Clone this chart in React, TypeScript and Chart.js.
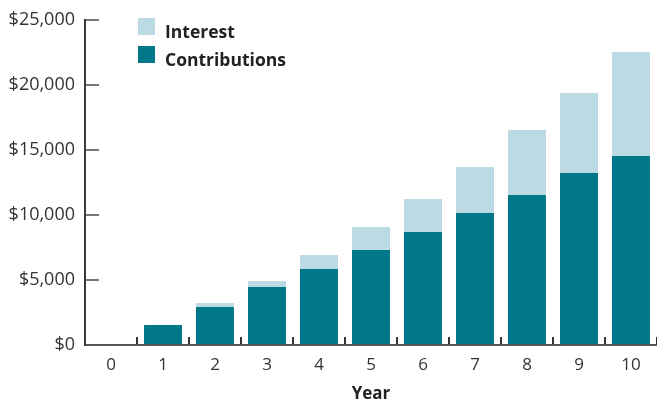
import React, { useEffect, useRef } from 'react';
import { Chart, registerables } from 'chart.js';

Chart.register(...registerables);

const years = ['0', '1', '2', '3', '4', '5', '6', '7', '8', '9', '10'];
const contributions = [0, 1540, 2920, 4460, 5850, 7310, 8690, 10150, 11540, 13230, 14540];
const interest = [0, 0, 310, 460, 1070, 1770, 2540, 3540, 5000, 6150, 8000];
const yMin = 0;
const yMax = 25000;
const yStep = 5000;

const DARK = '#00788a';
const LIGHT = '#bcdae3';
const FONT = 'Open Sans';

const insideLegend = {
  id: 'insideLegend',
  afterDraw(chart: any) {
    const { ctx, chartArea } = chart;
    const items = [...chart.data.datasets].reverse();
    ctx.save();
    ctx.font = `bold 17.5px "${FONT}"`;
    ctx.textBaseline = 'alphabetic';
    ctx.textAlign = 'left';
    items.forEach((ds: any, i: number) => {
      const x = chartArea.left + 53;
      const y = chartArea.top - 2 + i * 28;
      ctx.fillStyle = ds.backgroundColor;
      ctx.fillRect(x, y, 17, 17);
      ctx.fillStyle = '#222';
      ctx.fillText(ds.label, x + 27, y + 19.5);
    });
    ctx.restore();
  },
};

export default function App() {
  const ref = useRef<HTMLCanvasElement>(null);

  useEffect(() => {
    if (!ref.current) return;
    const chart = new Chart(ref.current, {
      type: 'bar',
      data: {
        labels: years,
        datasets: [
          {
            label: 'Contributions',
            data: contributions,
            backgroundColor: DARK,
            borderWidth: 0,
            barPercentage: 0.73,
            categoryPercentage: 1,
          },
          {
            label: 'Interest',
            data: interest,
            backgroundColor: LIGHT,
            borderWidth: 0,
            barPercentage: 0.73,
            categoryPercentage: 1,
          },
        ],
      },
      options: {
        responsive: false,
        animation: false,
        layout: { padding: { top: 20, right: 0, bottom: 0, left: 0 } },
        plugins: {
          legend: { display: false },
          tooltip: { enabled: false },
        },
        scales: {
          x: {
            stacked: true,
            offset: true,
            grid: {
              offset: true,
              drawOnChartArea: false,
              drawTicks: true,
              tickLength: -8,
              color: '#333',
              lineWidth: 2,
            },
            border: { color: '#555', width: 2 },
            ticks: {
              color: '#333',
              padding: 18,
              font: { family: FONT, size: 17 },
            },
            title: {
              display: true,
              text: 'Year',
              color: '#222',
              font: { family: FONT, size: 17, weight: 'bold', lineHeight: 1 },
              padding: { top: 0, bottom: -2 },
            },
            afterFit: (s: any) => {
              s.height = 56;
              s.paddingLeft = 0;
              s.paddingRight = 0;
            },
          },
          y: {
            stacked: true,
            min: yMin,
            max: yMax,
            ticks: {
              stepSize: yStep,
              color: '#333',
              padding: 24,
              font: { family: FONT, size: 18 },
              callback: (v: any) => '$' + Number(v).toLocaleString('en-US'),
            },
            grid: {
              drawOnChartArea: false,
              tickLength: -14,
              color: '#777',
              lineWidth: 2,
            },
            border: { color: '#3a3a3a', width: 2 },
            afterFit: (s: any) => {
              s.width = 85;
              s.paddingTop = 0;
              s.paddingBottom = 0;
            },
          },
        },
      },
      plugins: [insideLegend],
    } as any);
    return () => chart.destroy();
  }, []);

  return (
    <div style={{ position: 'absolute', left: 0, top: 0, width: 657, height: 401, background: '#fff' }}>
      <canvas ref={ref} width={657} height={401} style={{ display: 'block' }} />
    </div>
  );
}
